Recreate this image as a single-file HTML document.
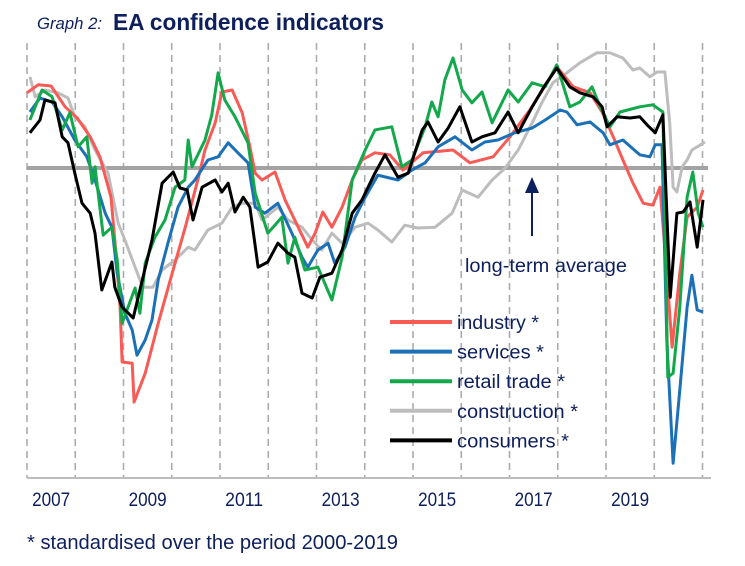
<!DOCTYPE html>
<html><head><meta charset="utf-8"><style>
body{margin:0;background:#fff;width:745px;height:566px;overflow:hidden;font-family:"Liberation Sans",sans-serif}
svg{display:block}
</style></head><body>
<svg id="chart" width="745" height="566" viewBox="0 0 745 566" xmlns="http://www.w3.org/2000/svg">
<text x="37" y="29" font-size="17" font-style="italic" fill="#0d1f5c" textLength="65" lengthAdjust="spacingAndGlyphs">Graph 2:</text>
<text x="113" y="30" font-size="23" font-weight="bold" fill="#0d1f5c" textLength="271" lengthAdjust="spacingAndGlyphs">EA confidence indicators</text>
<g id="grid"></g>
<line x1="27" y1="168" x2="708" y2="168" stroke="#a3a3a3" stroke-width="4"/>
<g id="series"></g>
<line x1="27" y1="478" x2="711" y2="478" stroke="#bdbdbd" stroke-width="2"/>
<g id="xlabels"></g>
<g>
<line x1="532" y1="190" x2="532" y2="236" stroke="#0d1f5c" stroke-width="2"/>
<polygon points="532,177 525,193 539,193" fill="#0d1f5c"/>
<text x="465" y="272" font-size="19" fill="#0d1f5c" textLength="162" lengthAdjust="spacingAndGlyphs">long-term average</text>
</g>
<g id="legend"></g>
<text x="27" y="549" font-size="20" fill="#0d1f5c" textLength="371" lengthAdjust="spacingAndGlyphs">* standardised  over the period 2000-2019</text>
</svg>
<script>
const yearTicks=[2007,2009,2011,2013,2015,2017,2019];
const seriesNames=["construction *","industry *","services *","retail trade *","consumers *"];
const industryT=[2007.00,2007.23,2007.50,2007.79,2008.04,2008.31,2008.51,2008.74,2008.82,2008.93,2008.97,2009.18,2009.22,2009.45,2009.72,2010.01,2010.28,2010.54,2010.69,2010.90,2011.04,2011.25,2011.46,2011.62,2011.73,2011.87,2012.14,2012.35,2012.62,2012.82,2012.97,2013.13,2013.32,2013.53,2013.74,2013.94,2014.21,2014.52,2014.79,2015.21,2015.83,2016.18,2016.66,2017.01,2017.42,2017.78,2017.98,2018.32,2018.67,2018.92,2019.15,2019.35,2019.56,2019.77,2019.97,2020.12,2020.26,2020.37,2020.53,2020.68,2020.89,2021.01];
const industryV=[1.88,2.08,2.05,1.53,1.25,0.78,0.28,-0.73,-1.80,-3.48,-4.85,-4.88,-5.85,-5.13,-3.88,-2.63,-1.48,-0.30,0.45,1.13,1.90,1.95,1.38,0.53,-0.13,-0.30,-0.10,-0.80,-1.48,-1.98,-1.63,-1.10,-1.48,-0.98,-0.30,0.20,0.38,0.33,-0.05,0.38,0.45,0.13,0.28,0.78,1.45,2.13,2.53,2.03,1.88,1.40,0.78,0.20,-0.38,-0.88,-0.93,-0.48,-2.63,-4.48,-2.63,-1.23,-0.98,-0.55];
const servicesT=[2007.06,2007.27,2007.52,2007.73,2007.99,2008.24,2008.41,2008.62,2008.76,2008.87,2009.03,2009.18,2009.28,2009.45,2009.59,2009.72,2009.92,2010.13,2010.34,2010.48,2010.75,2010.96,2011.17,2011.37,2011.58,2011.73,2011.93,2012.20,2012.49,2012.70,2012.82,2013.03,2013.24,2013.38,2013.59,2013.80,2014.01,2014.27,2014.69,2014.98,2015.25,2015.52,2015.87,2016.22,2016.49,2016.76,2017.11,2017.47,2017.74,2018.05,2018.19,2018.40,2018.67,2018.94,2019.08,2019.35,2019.70,2019.91,2020.02,2020.16,2020.26,2020.39,2020.53,2020.68,2020.78,2020.89,2021.01];
const servicesV=[1.40,1.75,1.65,1.28,0.70,0.28,-0.30,-1.13,-1.48,-2.63,-3.63,-4.05,-4.68,-4.30,-3.80,-2.80,-1.88,-0.98,-0.48,-0.30,0.20,0.28,0.63,0.38,0.13,-0.98,-1.13,-0.88,-1.63,-2.23,-2.48,-2.05,-1.88,-2.38,-1.98,-1.23,-0.73,-0.18,-0.30,-0.05,0.13,0.53,0.78,0.45,0.65,0.70,0.88,1.00,1.20,1.45,1.40,1.08,1.15,0.88,0.58,0.70,0.33,0.28,0.58,0.58,-4.30,-7.38,-5.55,-3.48,-2.68,-3.55,-3.60];
const retailT=[2007.06,2007.31,2007.52,2007.73,2007.89,2008.06,2008.24,2008.35,2008.41,2008.58,2008.76,2008.87,2008.97,2009.24,2009.34,2009.45,2009.65,2009.86,2010.07,2010.27,2010.34,2010.42,2010.69,2010.83,2010.96,2011.10,2011.31,2011.58,2011.73,2011.99,2012.28,2012.41,2012.55,2012.76,2013.03,2013.32,2013.53,2013.74,2014.01,2014.21,2014.56,2014.77,2014.98,2015.25,2015.39,2015.52,2015.66,2015.83,2016.02,2016.22,2016.43,2016.64,2016.97,2017.18,2017.47,2017.74,2017.98,2018.25,2018.46,2018.71,2018.88,2019.08,2019.29,2019.70,2019.97,2020.18,2020.28,2020.39,2020.53,2020.68,2020.80,2020.91,2021.01];
const retailV=[1.20,1.95,1.78,0.95,1.38,0.53,0.78,-0.38,0.03,-1.68,-1.48,-2.30,-3.88,-3.00,-3.63,-2.38,-1.73,-1.30,-0.48,-0.30,0.70,0.03,0.70,1.33,2.38,1.70,1.28,0.63,-0.63,-1.63,-1.23,-2.38,-1.73,-2.55,-2.48,-3.30,-2.23,-0.30,0.45,0.95,1.03,0.03,0.20,1.03,1.65,1.28,2.20,2.75,1.95,1.63,1.90,1.13,1.95,1.65,2.13,2.03,2.58,1.53,1.65,2.03,1.53,1.03,1.40,1.53,1.58,1.40,-5.23,-5.13,-3.48,-0.73,-0.10,-1.13,-1.48];
const constructionT=[2007.06,2007.17,2007.37,2007.64,2007.85,2007.99,2008.20,2008.41,2008.68,2008.89,2009.03,2009.24,2009.40,2009.61,2009.80,2010.07,2010.34,2010.48,2010.75,2011.04,2011.25,2011.46,2011.73,2011.87,2012.20,2012.41,2012.70,2012.91,2013.11,2013.32,2013.53,2013.80,2014.07,2014.27,2014.56,2014.83,2015.10,2015.46,2015.81,2016.02,2016.35,2016.64,2016.91,2017.18,2017.47,2017.67,2017.90,2018.19,2018.46,2018.81,2019.08,2019.35,2019.56,2019.70,2019.91,2020.06,2020.22,2020.32,2020.39,2020.47,2020.58,2020.68,2020.78,2020.89,2021.05];
const constructionV=[2.28,1.78,1.95,1.88,1.75,1.28,1.03,0.45,-0.13,-1.38,-1.80,-2.48,-2.98,-2.98,-2.55,-2.30,-1.98,-2.05,-1.55,-1.38,-0.98,-0.88,-0.88,-1.30,-0.98,-1.30,-1.48,-1.80,-2.05,-1.63,-1.88,-1.48,-1.38,-1.55,-1.85,-1.43,-1.50,-1.48,-1.13,-0.55,-0.73,-0.30,0.00,0.45,1.13,1.63,2.13,2.38,2.63,2.88,2.88,2.75,2.45,2.50,2.28,2.40,2.40,1.13,-0.48,-0.60,0.03,0.20,0.45,0.53,0.65];
const consumersT=[2007.06,2007.27,2007.37,2007.58,2007.73,2007.85,2007.99,2008.14,2008.31,2008.41,2008.55,2008.76,2008.82,2008.97,2009.20,2009.34,2009.59,2009.80,2010.03,2010.17,2010.32,2010.44,2010.63,2010.90,2011.04,2011.17,2011.31,2011.48,2011.62,2011.79,2011.99,2012.20,2012.41,2012.55,2012.70,2012.91,2013.07,2013.32,2013.53,2013.74,2013.94,2014.21,2014.42,2014.69,2014.90,2015.19,2015.31,2015.52,2015.73,2015.97,2016.22,2016.43,2016.70,2016.97,2017.18,2017.47,2017.74,2017.98,2018.25,2018.46,2018.73,2018.92,2019.02,2019.23,2019.50,2019.70,2019.85,2020.02,2020.18,2020.33,2020.47,2020.60,2020.74,2020.89,2021.01];
const consumersV=[0.88,1.20,1.70,1.63,0.78,0.63,-0.13,-0.88,-1.13,-1.63,-3.05,-2.35,-2.98,-3.48,-3.75,-3.05,-1.80,-0.38,-0.10,-0.50,-0.55,-1.30,-0.48,-0.30,-0.60,-0.38,-1.10,-0.73,-0.98,-2.48,-2.35,-1.88,-2.13,-2.23,-3.13,-3.25,-2.73,-2.63,-2.05,-1.13,-0.80,-0.13,0.33,-0.23,-0.13,0.95,1.15,0.65,1.00,1.53,0.65,0.78,0.88,1.40,0.88,1.53,2.08,2.50,2.03,1.88,1.78,1.53,1.03,1.28,1.25,1.28,1.08,0.88,1.33,-3.23,-1.13,-1.10,-0.85,-1.98,-0.80];

const NS="http://www.w3.org/2000/svg";
const X0=27,PXY=48.25,Y0=168,PXV=40;
function xScale(t){return X0+(t-2007)*PXY;}
function yScale(v){return Y0-v*PXV;}
function mk(tag,attrs,parent){const e=document.createElementNS(NS,tag);for(const k in attrs)e.setAttribute(k,attrs[k]);parent.appendChild(e);return e;}

const grid=document.getElementById('grid');
for(let y=2007;y<=2021;y++){
  const l=mk('line',{x1:xScale(y),x2:xScale(y),y1:43,y2:478,stroke:'#ababab','stroke-width':1.6,'stroke-dasharray':'7,5'},grid);
  
  
}
const xl=document.getElementById('xlabels');
yearTicks.forEach(y=>{
  const t=mk('text',{x:xScale(y+0.5)-19,y:506,'font-size':19,fill:'#0d1f5c',textLength:38,lengthAdjust:'spacingAndGlyphs'},xl);
  t.textContent=String(y);
  
  
});
const ser=[
 {t:constructionT,v:constructionV,c:'#bdbdbd'},
 {t:industryT,v:industryV,c:'#f85a55'},
 {t:servicesT,v:servicesV,c:'#1b70b8'},
 {t:retailT,v:retailV,c:'#13a84b'},
 {t:consumersT,v:consumersV,c:'#000000'}];
const sg=document.getElementById('series');
const slugs=['construction-line','industry-line','services-line','retail-trade-line','consumers-line'];
ser.forEach((s,i)=>{
  const pts=s.t.map((t,j)=>xScale(t).toFixed(1)+','+yScale(s.v[j]).toFixed(1)).join(' ');
  const p=mk('polyline',{points:pts,fill:'none',stroke:s.c,'stroke-width':3,'stroke-linejoin':'round'},sg);
  
  
});
const lg=document.getElementById('legend');
const legOrder=[1,2,3,0,4];
const legWidths=[82,87,108,121,112];
legOrder.forEach((si,k)=>{
  const y=322+k*29.6;
  const l=mk('line',{x1:390,x2:452,y1:y,y2:y,stroke:ser[si].c,'stroke-width':4},lg);
  
  
  const t=mk('text',{x:457,y:y+7,'font-size':19,fill:'#0d1f5c',textLength:legWidths[k],lengthAdjust:'spacingAndGlyphs'},lg);
  t.textContent=seriesNames[si];
  
  
});
</script>
</body></html>
